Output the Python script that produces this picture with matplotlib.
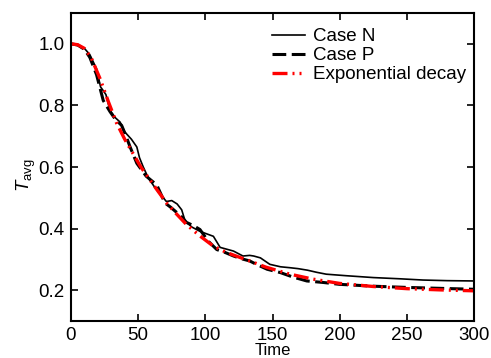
import numpy as np
import matplotlib.pyplot as plt

plt.rcParams['font.family'] = ['Liberation Sans', 'DejaVu Sans']
plt.rcParams['mathtext.fontset'] = 'custom'
plt.rcParams['mathtext.rm'] = 'Liberation Sans'
plt.rcParams['mathtext.it'] = 'Liberation Sans:italic'

# --- data ---
t_n = [0, 5, 10, 14, 19, 22, 24, 26, 29, 33, 36.5, 40, 45, 49, 51, 53.8, 57.6,
       63, 71, 75, 79, 82.4, 85, 90, 96, 101, 106, 111, 116, 121, 128, 133, 136,
       141, 148, 156, 163, 169, 176, 183, 190, 205, 225, 245, 262, 280, 300]
case_n = [1.0, 0.997, 0.985, 0.965, 0.919, 0.86, 0.848, 0.835, 0.784, 0.76, 0.746,
          0.714, 0.69, 0.665, 0.63, 0.60, 0.564, 0.53, 0.488, 0.491, 0.48, 0.461,
          0.424, 0.405, 0.391, 0.383, 0.375, 0.339, 0.333, 0.327, 0.311, 0.313,
          0.311, 0.305, 0.284, 0.276, 0.273, 0.270, 0.265, 0.258, 0.252, 0.247,
          0.241, 0.237, 0.233, 0.231, 0.230]

t_p = [0, 5, 10, 14, 19, 24, 29, 33, 37.7, 41, 44, 49, 56, 63.8, 70, 74, 78, 82,
       86, 91, 96, 102, 108.5, 115, 121, 127, 133, 138, 146, 156, 165, 175.5, 188,
       200, 225, 250, 275, 300]
case_p = [1.0, 0.996, 0.982, 0.956, 0.90, 0.816, 0.78, 0.755, 0.735, 0.70, 0.665,
          0.612, 0.57, 0.542, 0.483, 0.47, 0.455, 0.44, 0.42, 0.41, 0.397, 0.36,
          0.332, 0.322, 0.311, 0.302, 0.295, 0.284, 0.268, 0.257, 0.243, 0.230,
          0.225, 0.219, 0.213, 0.209, 0.206, 0.203]

t_e = [0, 5, 10, 15, 21.6, 28, 34, 40, 46, 52, 58.8, 65, 71.2, 78, 86, 96, 106,
       116, 126, 133, 145, 163, 180, 200, 225, 250, 275, 300]
exp_decay = [1.0, 0.997, 0.985, 0.955, 0.887, 0.81, 0.742, 0.69, 0.645, 0.60,
             0.558, 0.52, 0.483, 0.45, 0.413, 0.376, 0.343, 0.322, 0.306, 0.295,
             0.275, 0.252, 0.236, 0.222, 0.212, 0.205, 0.201, 0.198]

W, H = 491, 358
fig = plt.figure(figsize=(W / 100, H / 100), dpi=100)
ax = fig.add_axes([71 / W, 1 - 321 / H, 403 / W, 308 / H])

ax.plot(t_n, case_n, color='black', lw=1.2, label='Case N')
ax.plot(t_p, case_p, color='black', lw=2.2, ls=(0, (4.5, 1.8)), label='Case P')
ax.plot(t_e, exp_decay, color='red', lw=2.4,
        ls=(0, (4.5, 1.5, 0.6, 1.5, 0.6, 1.5)), label='Exponential decay')

ax.set_xlim(0, 300)
ax.set_ylim(0.1, 1.1)
ax.set_xticks([0, 50, 100, 150, 200, 250, 300])
ax.set_yticks([0.2, 0.4, 0.6, 0.8, 1.0])
ax.set_yticklabels(['0.2', '0.4', '0.6', '0.8', '1.0'])
ax.tick_params(direction='in', top=True, right=True, labelsize=13.5, width=1.2,
               length=5, pad=4.5)
for s in ax.spines.values():
    s.set_linewidth(1.5)

# Time label sits right at the bottom edge, as in the original
fig.text(0.5 * (71 + 474) / W, 0.0, 'Time', fontsize=12, ha='center', va='bottom')
ax.set_ylabel(r'$T_{\rm avg}$', fontsize=13.5)
ax.yaxis.set_label_coords(-0.082, 0.474)

ax.legend(loc='upper left', frameon=False, fontsize=13.5, handlelength=1.75,
          handletextpad=0.42, labelspacing=0.1, borderpad=0, borderaxespad=0,
          bbox_to_anchor=(272 / W, 1 - 28 / H), bbox_transform=fig.transFigure)

fig.savefig('out.png', dpi=100)
